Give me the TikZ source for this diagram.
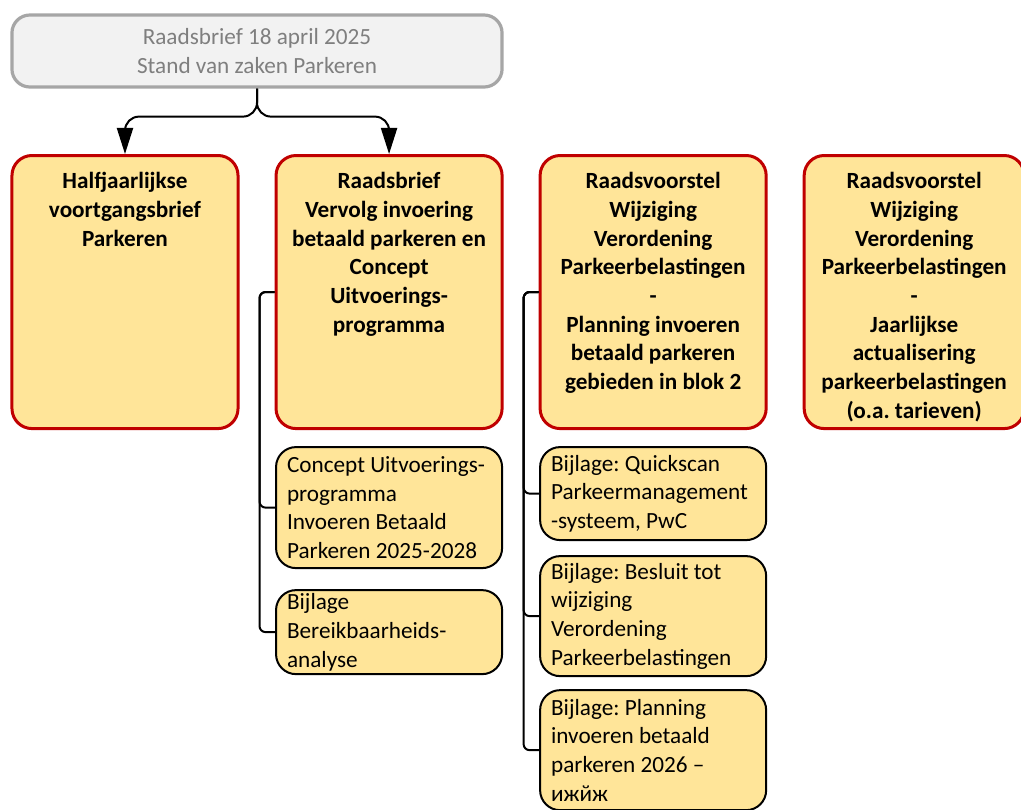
\documentclass[tikz,border=0pt]{standalone}
\usepackage{fontspec}
\setmainfont{Carlito}
\usepackage{tikz}
\usetikzlibrary{arrows.meta, positioning}
\frenchspacing

\definecolor{rootfill}{HTML}{F2F2F2}
\definecolor{rootline}{HTML}{A6A6A6}
\definecolor{roottext}{HTML}{7F7F7F}
\definecolor{docfill}{HTML}{FFE599}
\definecolor{docred}{HTML}{C00000}

\newcommand{\doctext}[1]{\parbox[c][5.975cm][t]{5.5cm}{\centering #1}}

\begin{document}
\begin{tikzpicture}[
  x=0.025cm, y=-0.025cm,
  every node/.style={font=\fontsize{16.5}{20.4}\selectfont},
  rootbox/.style={rectangle, rounded corners=0.45cm, draw=rootline, fill=rootfill, line width=0.08cm, text=roottext, minimum width=12.25cm, minimum height=1.8cm, align=center},
  docbox/.style={rectangle, rounded corners=0.5cm, draw=docred, fill=docfill, line width=0.075cm, minimum width=5.65cm, minimum height=6.825cm, inner sep=0pt, font=\fontsize{16.5}{20.4}\selectfont\bfseries},
  attbox/.style={rectangle, rounded corners=0.5cm, draw=black, fill=docfill, line width=0.05cm, text width=5.1cm, inner xsep=0.275cm, inner ysep=0pt, align=flush left},
  branch/.style={-{Triangle[length=0.65cm, width=0.4cm]}, line width=0.05cm, rounded corners=0.35cm},
  link/.style={line width=0.05cm, rounded corners=0.15cm}
]
\useasboundingbox (0,0) rectangle (1021,810);

% Raadsbrief
\node[rootbox] (root) at (257,51) {Raadsbrief 18 april 2025\\ Stand van zaken Parkeren};

% Documents
\node[docbox, anchor=north] (b1) at (125,154) {\doctext{Halfjaarlijkse\\ voortgangsbrief\\ Parkeren}};
\node[docbox, right=0.875cm of b1] (b2) {\doctext{Raadsbrief\\ Vervolg invoering\\ betaald parkeren en\\ Concept\\ Uitvoerings-\\ programma}};
\node[docbox, right=0.875cm of b2] (b3) {\doctext{Raadsvoorstel\\ Wijziging\\ Verordening\\ Parkeerbelastingen\\ -\\ Planning invoeren\\ betaald parkeren\\ gebieden in blok 2}};
\node[docbox, right=0.875cm of b3, minimum width=5.375cm] (b4) {\doctext{Raadsvoorstel\\ Wijziging\\ Verordening\\ Parkeerbelastingen\\ -\\ Jaarlijkse\\ actualisering\\ parkeerbelastingen\\ (o.a. tarieven)}};

\draw[branch] (root.south) -- ++(0,28) -| (b1.north);
\draw[branch] (root.south) -- ++(0,28) -| (b2.north);

% Bijlagen
\node[attbox, below=0.4cm of b2, minimum height=3.025cm] (c1) {Concept Uitvoerings-\\ programma\\ Invoeren Betaald\\ Parkeren 2025-2028};
\node[attbox, below=0.5cm of c1, minimum height=2.1cm] (c2) {Bijlage\\ Bereikbaarheids-\\ analyse};
\node[attbox, below=0.4cm of b3, minimum height=2.325cm] (c3) {Bijlage: Quickscan\\ Parkeermanagement\\ -systeem, PwC};
\node[attbox, below=0.35cm of c3, minimum height=3.0cm] (c4) {Bijlage: Besluit tot\\ wijziging\\ Verordening\\ Parkeerbelastingen};
\node[attbox, below=0.3cm of c4, minimum height=3.0cm] (c5) {Bijlage: Planning\\ invoeren betaald\\ parkeren 2026 –\\ ижйж};

\draw[link] (b2.west) -- ++(-15,0) |- (c1.west);
\draw[link] (b2.west) -- ++(-15,0) |- (c2.west);
\draw[link] (b3.west) -- ++(-15,0) |- (c3.west);
\draw[link] (b3.west) -- ++(-15,0) |- (c4.west);
\draw[link] (b3.west) -- ++(-15,0) |- (c5.west);

\end{tikzpicture}
\end{document}
